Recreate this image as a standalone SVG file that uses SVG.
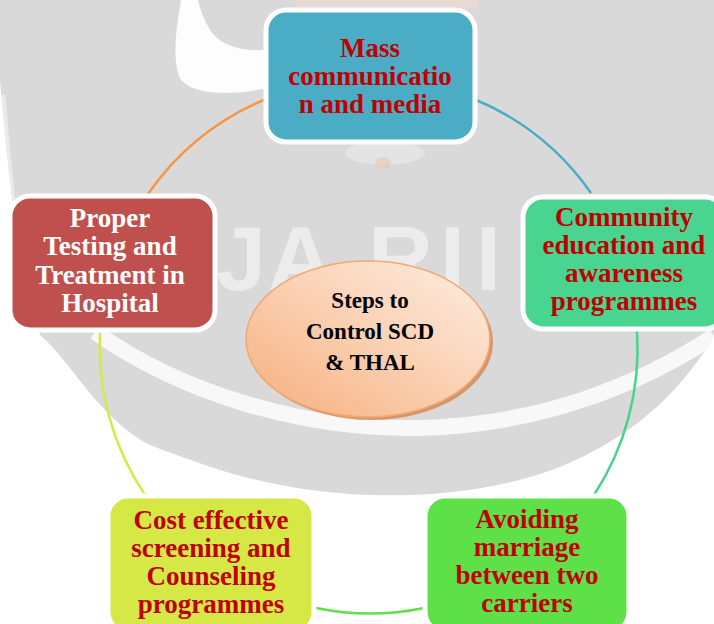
<svg xmlns="http://www.w3.org/2000/svg" width="714" height="624" viewBox="0 0 714 624">
  <defs>
    <linearGradient id="ovalGrad" x1="0" y1="1" x2="1" y2="0">
      <stop offset="0" stop-color="#f6ae7c"/>
      <stop offset="0.55" stop-color="#fbd3b6"/>
      <stop offset="1" stop-color="#fdeee4"/>
    </linearGradient>
    <style>
      .box { stroke: #ffffff; stroke-width: 5; }
      .lbl { font-family: "Liberation Serif", "Times New Roman", serif; font-weight: bold; font-size: 27px; text-anchor: middle; fill: #c00000; }
      .lblw { fill: #ffffff; }
      .ctr { font-family: "Liberation Serif", "Times New Roman", serif; font-weight: bold; font-size: 23px; text-anchor: middle; fill: #000000; }
      .arc { fill: none; stroke-width: 2.5; }
      .wm { font-family: "Liberation Sans", Arial, sans-serif; font-weight: bold; font-size: 90px; fill: #ffffff; opacity: 0.5; }
    </style>
  </defs>

  <!-- background watermark -->
  <g id="background">
    <rect x="0" y="0" width="714" height="624" fill="#ffffff"/>
    <path d="M0,0 H714 V337 C690,375 650,430 560,467 C500,490 430,497 370,495 C280,492 220,472 150,445 C100,420 70,360 40,335 C20,280 8,180 0,80 Z" fill="#d9d9d9"/>
    <path d="M95,332 C180,392 300,430 420,428 C540,425 640,385 714,336" fill="none" stroke="#ffffff" stroke-width="16" opacity="0.8"/>
    <path d="M181,0 C176,30 172,60 180,78 C190,95 230,96 268,88 L268,50 C240,52 220,45 210,30 C204,20 200,10 198,0 Z" fill="#ffffff" opacity="0.95"/>
    <path d="M2,95 C8,170 16,260 30,330" fill="none" stroke="#ffffff" stroke-width="7" opacity="0.45"/>
    <ellipse cx="385" cy="153" rx="40" ry="12" fill="#ffffff" opacity="0.3"/>
    <ellipse cx="383" cy="163" rx="8" ry="6" fill="#efc3a2" opacity="0.55"/>
    <path d="M296,0 H478 V8 C430,14 340,14 296,8 Z" fill="#f3dccb" opacity="0.5"/>
    <text class="wm" y="290"><tspan x="216">J</tspan><tspan x="268">A</tspan><tspan x="368">R</tspan><tspan x="440">I</tspan><tspan x="476">I</tspan></text>
  </g>

  <!-- connectors -->
  <g id="connectors">
    <path class="arc" stroke="#f79646" d="M148,194 A268,268 0 0 1 266,99"/>
    <path class="arc" stroke="#4bacc6" d="M474,99 A268,268 0 0 1 591,193"/>
    <path class="arc" stroke="#47d38e" d="M637,331 A268,268 0 0 1 594,495"/>
    <path class="arc" stroke="#5de048" d="M424,608 A268,268 0 0 1 316,608"/>
    <path class="arc" stroke="#d4e94a" d="M145,495 A268,268 0 0 1 100,331"/>
  </g>

  <g id="node-mass">
    <rect class="box" x="266" y="10" width="209" height="132" rx="20" fill="#4bacc6"/>
    <text class="lbl"><tspan x="370" y="57">Mass</tspan><tspan x="370" y="85">communicatio</tspan><tspan x="370" y="113">n and media</tspan></text>
  </g>

  <g id="node-community">
    <rect class="box" x="523" y="197" width="202" height="132" rx="20" fill="#49d490"/>
    <text class="lbl"><tspan x="624" y="226">Community</tspan><tspan x="624" y="254">education and</tspan><tspan x="624" y="282">awareness</tspan><tspan x="624" y="310">programmes</tspan></text>
  </g>

  <g id="node-proper">
    <rect class="box" x="10" y="196" width="205" height="134" rx="20" fill="#c0504d"/>
    <text class="lbl lblw"><tspan x="110" y="227">Proper</tspan><tspan x="110" y="255">Testing and</tspan><tspan x="110" y="284">Treatment in</tspan><tspan x="110" y="312">Hospital</tspan></text>
  </g>

  <g id="node-cost">
    <rect class="box" x="108" y="496" width="206" height="136" rx="20" fill="#d5e845"/>
    <text class="lbl"><tspan x="211" y="529">Cost effective</tspan><tspan x="211" y="557">screening and</tspan><tspan x="211" y="585">Counseling</tspan><tspan x="211" y="613">programmes</tspan></text>
  </g>

  <g id="node-avoiding">
    <rect class="box" x="425" y="496" width="204" height="136" rx="20" fill="#5ee049"/>
    <text class="lbl"><tspan x="527" y="528">Avoiding</tspan><tspan x="527" y="556">marriage</tspan><tspan x="527" y="584">between two</tspan><tspan x="527" y="612">carriers</tspan></text>
  </g>

  <g id="node-center">
    <ellipse cx="371" cy="342" rx="122" ry="78" fill="#d38a55" opacity="0.85"/>
    <ellipse cx="368" cy="339" rx="122" ry="78" fill="url(#ovalGrad)" stroke="#f3a771" stroke-width="1.5"/>
    <text class="ctr"><tspan x="370" y="308">Steps to</tspan><tspan x="370" y="339">Control SCD</tspan><tspan x="370" y="370">&amp; THAL</tspan></text>
  </g>
</svg>
